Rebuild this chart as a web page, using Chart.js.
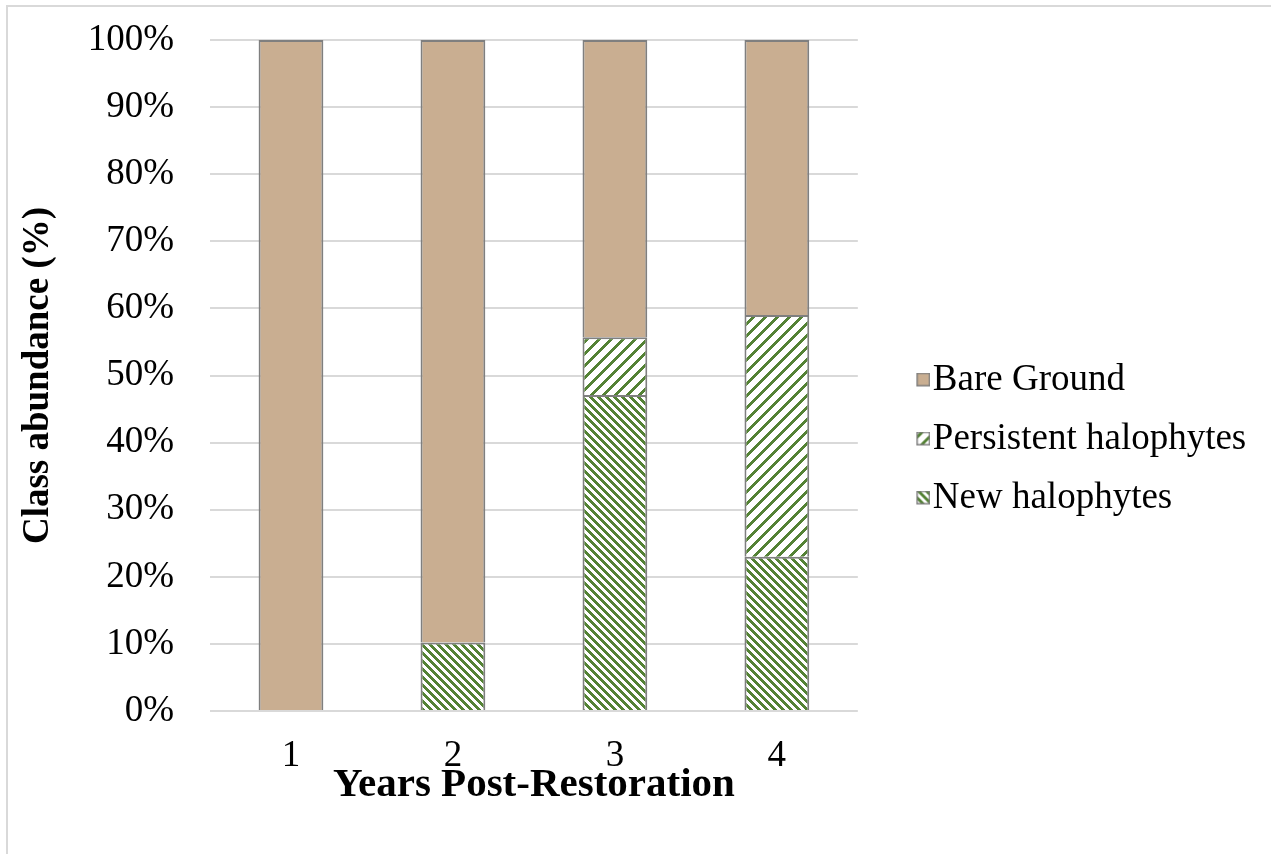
<!DOCTYPE html>
<html>
<head>
<meta charset="utf-8">
<script src="https://cdn.jsdelivr.net/npm/chart.js@4.4.1/dist/chart.umd.min.js"></script>
<style>
  html, body { margin: 0; padding: 0; background: #fff; }
  #wrap { position: absolute; left: 0; top: 0; width: 1271px; height: 854px; }
</style>
</head>
<body>
<div id="wrap"><canvas id="c" width="1271" height="854"></canvas></div>
<script>
// ---- Data ----
const categories = ['1', '2', '3', '4'];
const newHalophytes = [0, 10.2, 47.1, 23.0];
const persistentHalophytes = [0, 0, 8.6, 36.0];
const bareGround = [100, 89.8, 44.3, 41.0];
const seriesNames = ['New halophytes', 'Persistent halophytes', 'Bare Ground'];
const yTickValues = [0, 10, 20, 30, 40, 50, 60, 70, 80, 90, 100];
const xTitle = 'Years Post-Restoration';
const yTitle = 'Class abundance (%)';

// ---- Styles ----
const GREEN = '#548235';
const TAN = '#C9AE91';
const EDGE = '#7f7f7f';
const GRID = '#d9d9d9';
const FONT = '"Liberation Serif", "Times New Roman", serif';
const FS = 37;

function stripeTile(period, width, dir) {
  const c = document.createElement('canvas');
  c.width = period; c.height = period;
  const g = c.getContext('2d');
  g.fillStyle = '#fff';
  g.fillRect(0, 0, period, period);
  g.fillStyle = GREEN;
  for (let y = 0; y < period; y++) {
    for (let x = 0; x < period; x++) {
      const v = dir > 0 ? (x + y) % period : ((x - y) % period + period) % period;
      if (v < width) g.fillRect(x, y, 1, 1);
    }
  }
  return c;
}
const tmpCtx = document.createElement('canvas').getContext('2d');
const newTile = stripeTile(8, 4, -1);
const persTile = stripeTile(12, 4, 1);
const newPattern = tmpCtx.createPattern(newTile, 'repeat');
const persPattern = tmpCtx.createPattern(persTile, 'repeat');

function swatch(fill) {
  const c = document.createElement('canvas');
  c.width = 46; c.height = 15;
  const g = c.getContext('2d');
  g.fillStyle = fill instanceof HTMLCanvasElement ? g.createPattern(fill, 'repeat') : fill;
  g.fillRect(32, 0, 14, 14);
  g.strokeStyle = EDGE;
  g.lineWidth = 1.5;
  g.strokeRect(32.75, 0.75, 12.5, 12.5);
  return c;
}
const swBare = swatch(TAN);
const swPers = swatch(persTile);
const swNew = swatch(newTile);

const frame = {
  id: 'frame',
  afterLayout(chart) {
    const L = chart.legend;
    if (L) { L.right = chart.width; L.width = L.right - L.left; }
  },
  beforeDraw(chart) {
    const g = chart.ctx;
    g.save();
    g.fillStyle = '#fff';
    g.fillRect(0, 0, chart.width, chart.height);
    g.strokeStyle = GRID;
    g.lineWidth = 2;
    g.strokeRect(7, 6, 2000, 2000);
    g.restore();
  }
};

Chart.defaults.color = '#000';
Chart.defaults.font.family = FONT;
Chart.defaults.font.size = FS;

new Chart(document.getElementById('c'), {
  type: 'bar',
  data: {
    labels: categories,
    datasets: [
      { label: seriesNames[0], data: newHalophytes, backgroundColor: newPattern, borderColor: EDGE, borderWidth: 2, yAxisID: 'y' },
      { label: seriesNames[1], data: persistentHalophytes, backgroundColor: persPattern, borderColor: EDGE, borderWidth: 2, yAxisID: 'y' },
      { label: seriesNames[2], data: bareGround, backgroundColor: TAN, borderColor: EDGE, borderWidth: 2, yAxisID: 'y' }
    ]
  },
  options: {
    responsive: false,
    animation: false,
    devicePixelRatio: 1,
    datasets: { bar: { categoryPercentage: 1.0, barPercentage: 0.4 } },
    layout: { padding: { left: 0, top: 40, right: 217, bottom: 16 } },
    plugins: {
      tooltip: { enabled: false },
      legend: {
        position: 'right',
        align: 'center',
        labels: {
          usePointStyle: true,
          boxWidth: 14,
          boxHeight: 14,
          padding: 22,
          font: { size: FS, family: FONT },
          color: '#000',
          generateLabels() {
            return [
              { text: seriesNames[2], pointStyle: swBare, datasetIndex: 2, hidden: false, lineWidth: 0 },
              { text: seriesNames[1], pointStyle: swPers, datasetIndex: 1, hidden: false, lineWidth: 0 },
              { text: seriesNames[0], pointStyle: swNew, datasetIndex: 0, hidden: false, lineWidth: 0 }
            ];
          }
        }
      }
    },
    scales: {
      x: {
        stacked: true,
        grid: { display: false },
        border: { display: false },
        ticks: { padding: 15, font: { size: FS } },
        title: { display: true, text: xTitle, font: { size: 41, weight: 'bold' }, padding: { top: 0, bottom: 28 } },
        afterFit(s) { s.height = 127; }
      },
      y: {
        stacked: true,
        min: 0,
        max: 100,
        afterBuildTicks(s) { s.ticks = yTickValues.map(v => ({ value: v })); },
        grid: { color: GRID, lineWidth: 2, drawTicks: true, tickLength: 19, tickColor: 'rgba(0,0,0,0)' },
        border: { display: false },
        ticks: { padding: 17, font: { size: FS }, callback: v => v + '%' },
        title: { display: true, text: yTitle, font: { size: FS, weight: 'bold' }, padding: { top: 16, bottom: 0 } },
        afterFit(s) { s.width = 210; }
      },
      spacer: {
        type: 'linear',
        position: 'right',
        axis: 'y',
        display: true,
        grid: { display: false },
        border: { display: false },
        ticks: { display: false },
        afterFit(s) { s.width = 20.5; }
      }
    }
  },
  plugins: [frame]
});
</script>
</body>
</html>
